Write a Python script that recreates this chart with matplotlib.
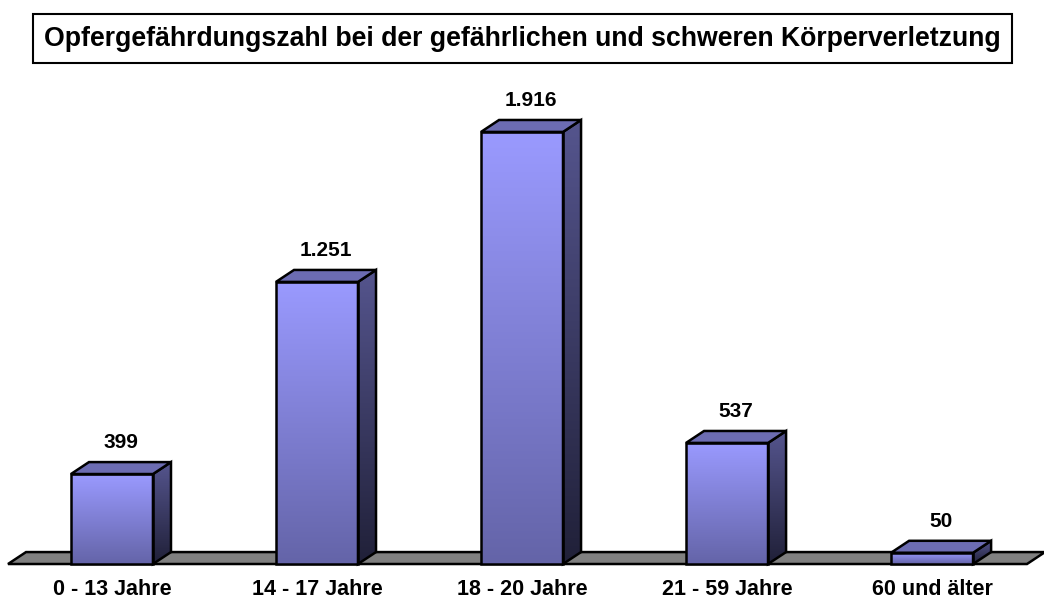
import numpy as np
import matplotlib
matplotlib.use('Agg')
import matplotlib.pyplot as plt
from matplotlib.patches import Polygon, Rectangle
from matplotlib.colors import LinearSegmentedColormap

plt.rcParams['font.family'] = ['Liberation Sans', 'DejaVu Sans']

title = 'Opfergefährdungszahl bei der gefährlichen und schweren Körperverletzung'
categories = ['0 - 13 Jahre', '14 - 17 Jahre', '18 - 20 Jahre', '21 - 59 Jahre', '60 und älter']
values = [399, 1251, 1916, 537, 50]
value_labels = ['399', '1.251', '1.916', '537', '50']

# depth of the pseudo 3d boxes, in data units
DX = 0.088
DY = 53
WIDTH = 0.4

front_cmap = LinearSegmentedColormap.from_list('front', ['#6464a8', '#9a9aff'])
side_cmap = LinearSegmentedColormap.from_list('side', ['#202038', '#55558e'])
grad = np.linspace(0, 1, 256).reshape(-1, 1)

fig = plt.figure(figsize=(10.44, 6.01), dpi=100)
ax = fig.add_axes([0, 0, 1, 1])
ax.set_xlim(-0.546, 4.546)
ax.set_ylim(-164, 2501)
ax.set_autoscale_on(False)
ax.axis('off')

# floor
fx0, fx1 = -0.507, 4.463
floor = Polygon([(fx0, 0), (fx1, 0), (fx1 + DX, DY), (fx0 + DX, DY)],
                closed=True, facecolor='#808080', edgecolor='black', lw=1.8, zorder=1)
ax.add_patch(floor)

for i, (v, lab) in enumerate(zip(values, value_labels)):
    x0 = i - WIDTH / 2
    x1 = i + WIDTH / 2

    front = Rectangle((x0, 0), WIDTH, v, facecolor='none', edgecolor='black', lw=1.8, zorder=4)
    ax.add_patch(front)
    im = ax.imshow(grad, extent=[x0, x1, 0, v], origin='lower', cmap=front_cmap,
                   aspect='auto', zorder=3)
    im.set_clip_path(front)

    side = Polygon([(x1, 0), (x1 + DX, DY), (x1 + DX, v + DY), (x1, v)],
                   closed=True, facecolor='none', edgecolor='black', lw=1.8, zorder=4)
    ax.add_patch(side)
    im2 = ax.imshow(grad, extent=[x1, x1 + DX, 0, v + DY], origin='lower', cmap=side_cmap,
                    aspect='auto', zorder=3)
    im2.set_clip_path(side)

    top = Polygon([(x0, v), (x1, v), (x1 + DX, v + DY), (x0 + DX, v + DY)],
                  closed=True, facecolor='#6c6cb2', edgecolor='black', lw=1.8, zorder=4)
    ax.add_patch(top)

    ax.annotate(lab, (i + DX / 2, v + DY), xytext=(0, 7), textcoords='offset points',
                ha='center', va='bottom', fontsize=15, fontweight='bold', zorder=5)
    ax.text(i, -115, categories[i], ha='center', va='center',
            fontsize=15.5, fontweight='bold')

# title box
fig.patches.append(Rectangle((33 / 1044, 1 - 63 / 601), (1012 - 33) / 1044, 49 / 601,
                             transform=fig.transFigure, facecolor='white',
                             edgecolor='black', lw=1.5))
fig.text(522 / 1044, 1 - 39 / 601, title, ha='center', va='center',
         fontsize=19.2, fontweight='bold')

fig.savefig('out.png', dpi=100)
